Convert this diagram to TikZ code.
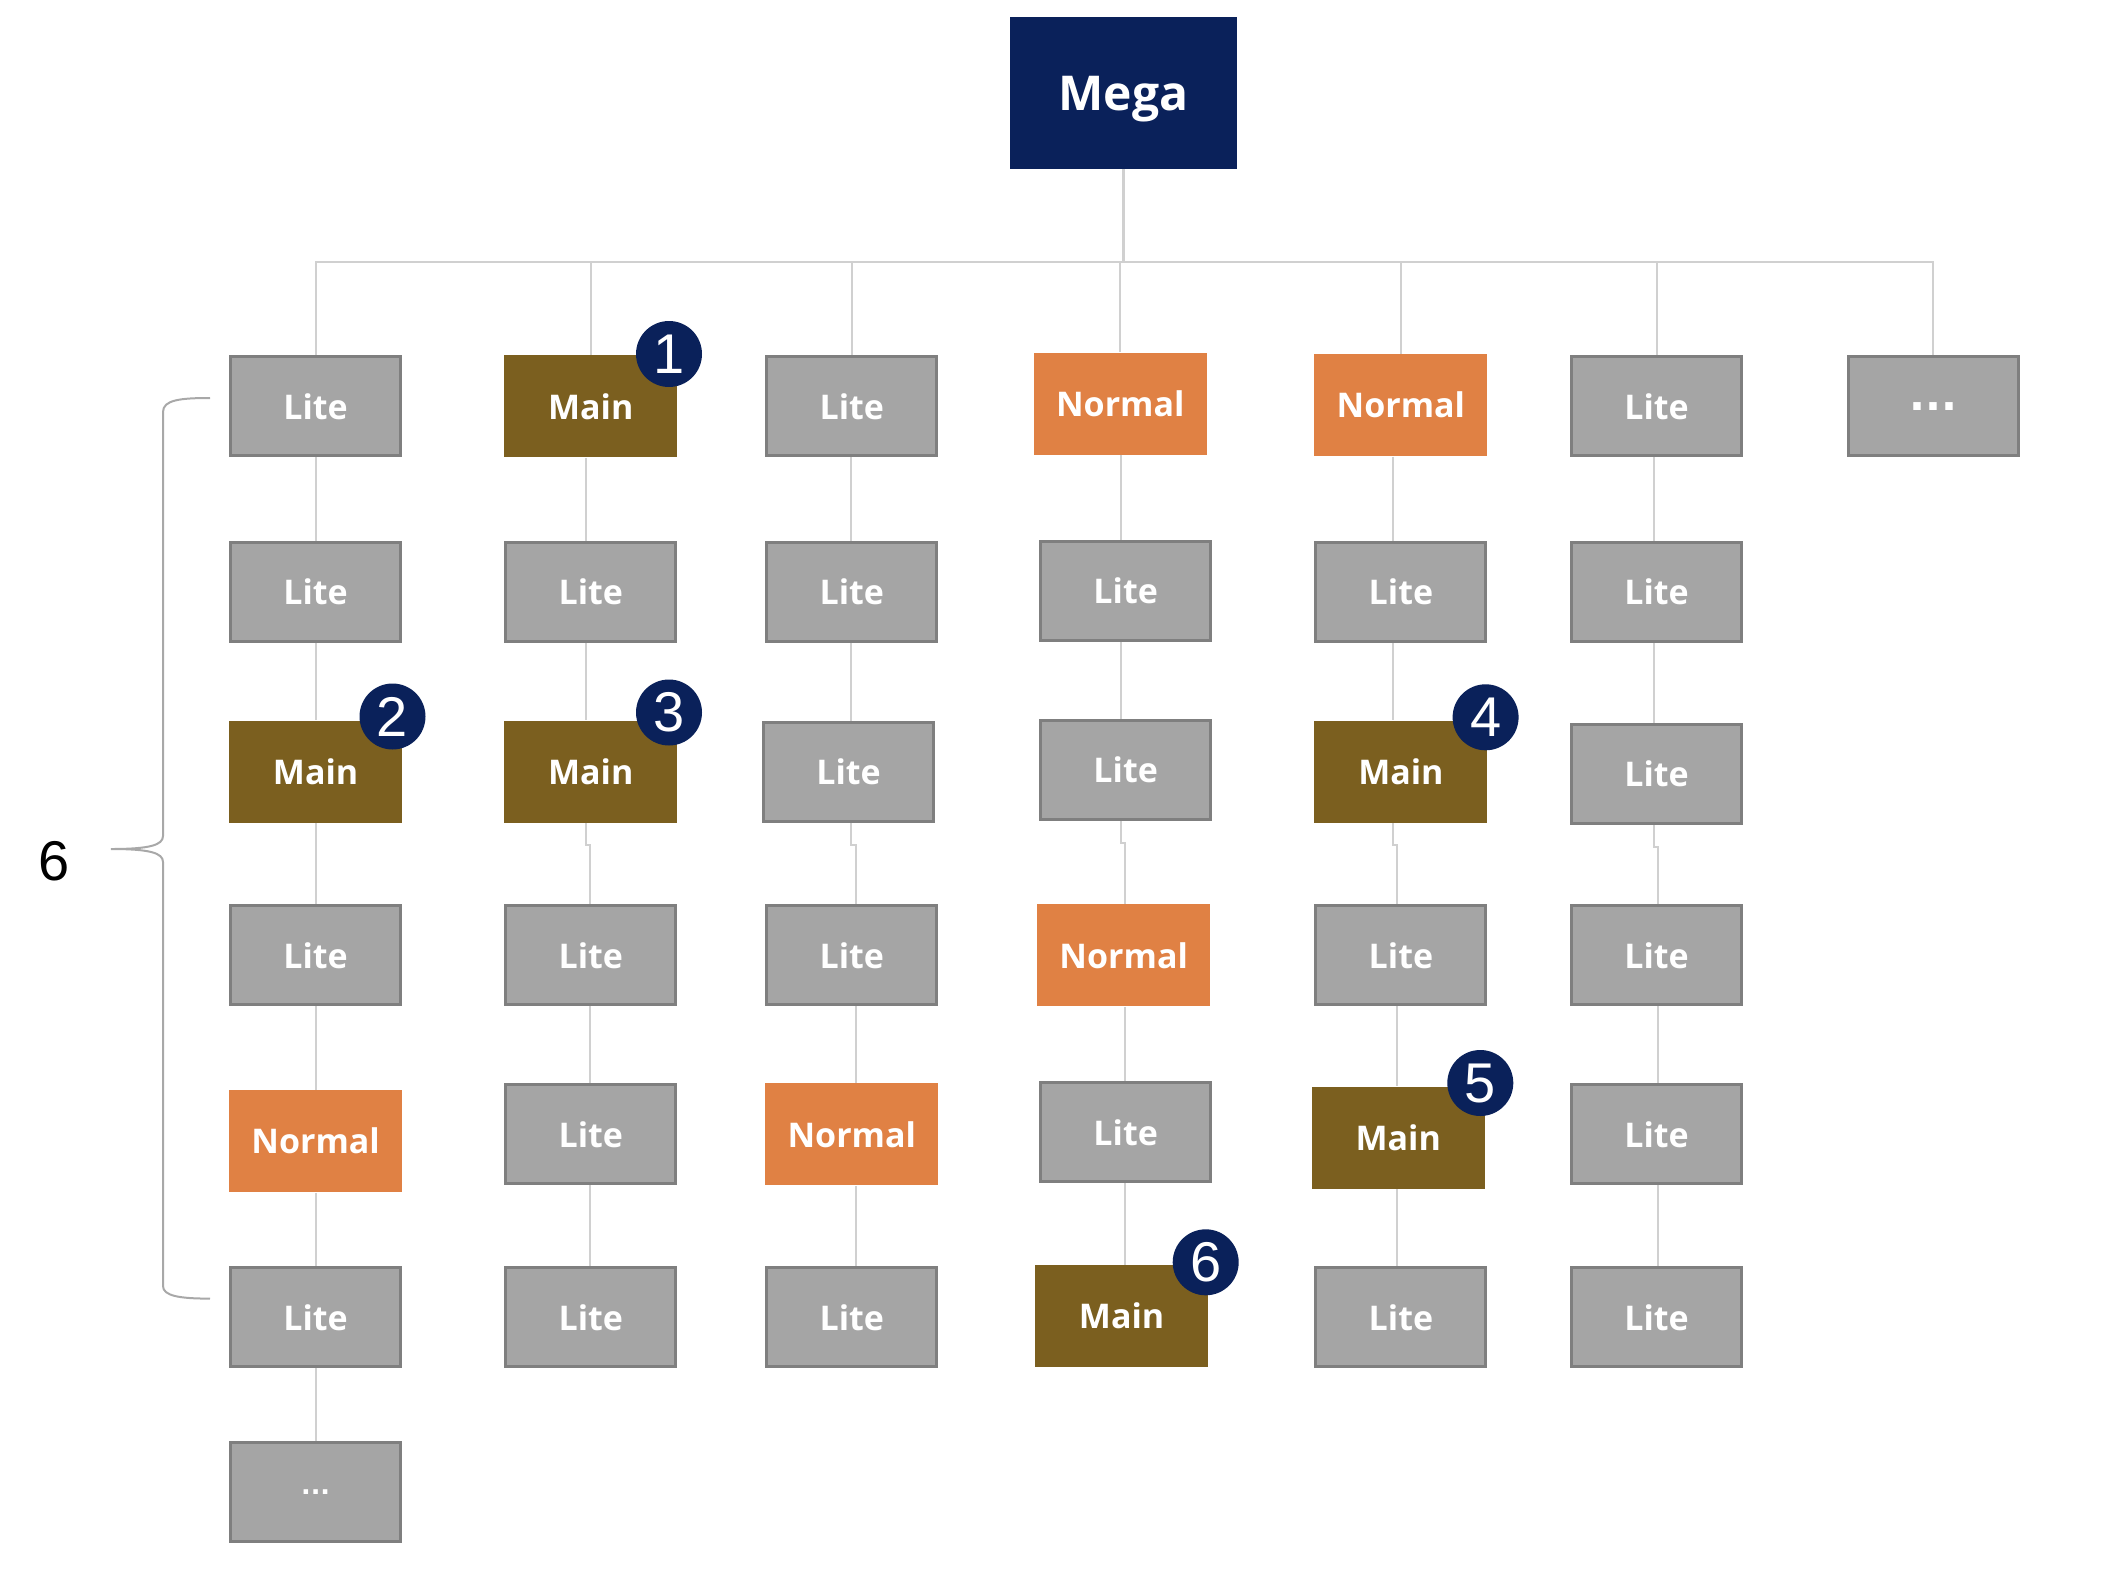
\documentclass[tikz,border=0pt]{standalone}
\usepackage{fontspec}
\setmainfont{Open Sans}
\newfontfamily\numfont{Liberation Sans}
\newfontfamily\dotfont{DejaVu Sans}
\usetikzlibrary{backgrounds}

\definecolor{navy}{HTML}{0A215A}
\definecolor{litefill}{HTML}{A5A5A5}
\definecolor{liteedge}{HTML}{7F7F7F}
\definecolor{mainfill}{HTML}{7B5F1F}
\definecolor{normfill}{HTML}{E08144}
\definecolor{wirecol}{HTML}{D0D0D0}
\definecolor{bracecol}{HTML}{A8A8A8}

\tikzset{
  box/.style={minimum width=86.5pt, minimum height=51pt, inner sep=0pt,
    text=white, font=\bfseries\fontsize{17}{20}\selectfont},
  lite/.style={box, fill=litefill, draw=liteedge, line width=1.5pt,
    minimum width=85pt, minimum height=49.5pt},
  mainbox/.style={box, fill=mainfill},
  normbox/.style={box, fill=normfill},
  megabox/.style={fill=navy, minimum width=113.5pt, minimum height=76pt,
    inner sep=0pt, text depth=0pt, text=white,
    font=\bfseries\fontsize{24}{28}\selectfont},
  badge/.style={circle, fill=navy, minimum size=33pt, inner sep=0pt,
    text=white, font=\numfont\fontsize{28}{30}\selectfont},
  wire/.style={draw=wirecol, line width=1pt},
}

\begin{document}
\begin{tikzpicture}[x=0.5pt, y=0.5pt]
\useasboundingbox (0,0) rectangle (2110,-1580);

% root
\node[megabox] (mega) at (1123.5,-93) {Mega};

% column 1
\node[lite]    (c1r1) at (315.6,-406.4)  {Lite};
\node[lite]    (c1r2) at (315.6,-592.1)  {Lite};
\node[mainbox] (c1r3) at (315.6,-771.8)  {Main};
\node[lite]    (c1r4) at (315.6,-955.4)  {Lite};
\node[normbox] (c1r5) at (315.6,-1141.2) {Normal};
\node[lite]    (c1r6) at (315.6,-1317.4) {Lite};
\node[lite, font=\dotfont\bfseries\fontsize{12.7}{14}\selectfont]
               (c1r7) at (315.6,-1492.4) {...};

% column 2
\node[mainbox] (c2r1) at (590.8,-406.4)  {Main};
\node[lite]    (c2r2) at (590.8,-592.1)  {Lite};
\node[mainbox] (c2r3) at (590.8,-771.8)  {Main};
\node[lite]    (c2r4) at (590.8,-955.4)  {Lite};
\node[lite]    (c2r5) at (590.8,-1134.4) {Lite};
\node[lite]    (c2r6) at (590.8,-1317.4) {Lite};

% column 3
\node[lite]    (c3r1) at (851.8,-406.4)  {Lite};
\node[lite]    (c3r2) at (851.8,-592.1)  {Lite};
\node[lite]    (c3r3) at (848.5,-771.8)  {Lite};
\node[lite]    (c3r4) at (851.8,-955.4)  {Lite};
\node[normbox] (c3r5) at (851.8,-1134.4) {Normal};
\node[lite]    (c3r6) at (851.8,-1317.4) {Lite};

% column 4
\node[normbox] (c4r1) at (1120.3,-403.7)  {Normal};
\node[lite]    (c4r2) at (1125.7,-590.8)  {Lite};
\node[lite]    (c4r3) at (1125.7,-769.7)  {Lite};
\node[normbox] (c4r4) at (1123.7,-955.4)  {Normal};
\node[lite]    (c4r5) at (1125.7,-1132.4) {Lite};
\node[mainbox] (c4r6) at (1121.6,-1316.1) {Main};

% column 5
\node[normbox] (c5r1) at (1400.9,-405.1)  {Normal};
\node[lite]    (c5r2) at (1400.9,-592.1)  {Lite};
\node[mainbox] (c5r3) at (1400.9,-771.8)  {Main};
\node[lite]    (c5r4) at (1400.9,-955.4)  {Lite};
\node[mainbox] (c5r5) at (1398.2,-1137.8) {Main};
\node[lite]    (c5r6) at (1400.9,-1317.4) {Lite};

% column 6
\node[lite] (c6r1) at (1656.6,-406.4)  {Lite};
\node[lite] (c6r2) at (1656.6,-592.1)  {Lite};
\node[lite] (c6r3) at (1656.6,-773.8)  {Lite};
\node[lite] (c6r4) at (1656.6,-955.4)  {Lite};
\node[lite] (c6r5) at (1656.6,-1134.4) {Lite};
\node[lite] (c6r6) at (1656.6,-1317.4) {Lite};

% column 7
\node[lite, font=\dotfont\bfseries\fontsize{21}{24}\selectfont]
            (c7r1) at (1933.1,-406.4) {...};

% numbered badges
\node[badge] (b1) at (669,-354)      {1};
\node[badge] (b2) at (392.5,-716.5)  {2};
\node[badge] (b3) at (669,-712.5)    {3};
\node[badge] (b4) at (1485.6,-717.3) {4};
\node[badge] (b5) at (1480.3,-1083)  {5};
\node[badge] (b6) at (1205.7,-1262.3){6};

% wire tracks: upper (levels 1-3) and lower (levels 4-6) per column
\coordinate (u1) at (316,0);    \coordinate (l1) at (316,0);
\coordinate (u2) at (585.5,0);  \coordinate (l2) at (589.5,0);
\coordinate (u3) at (850.5,0);  \coordinate (l3) at (856,0);
\coordinate (u4) at (1121,0);   \coordinate (l4) at (1125,0);
\coordinate (u5) at (1393,0);   \coordinate (l5) at (1397,0);
\coordinate (u6) at (1654,0);   \coordinate (l6) at (1658,0);

% connectors
\begin{pgfonlayer}{background}
  \draw[wire, line width=1.5pt] (mega.south) -- ++(0,-93) coordinate (hub);
  \foreach \t in {c1r1,c2r1,c3r1,c4r1,c5r1,c6r1,c7r1}
    \draw[wire] (hub) -| (\t.north);
  \foreach \k in {1,...,6}{
    \draw[wire] (c\k r1.south -| u\k) -- (c\k r2.north -| u\k);
    \draw[wire] (c\k r2.south -| u\k) -- (c\k r3.north -| u\k);
    \draw[wire] (c\k r3.south -| u\k) -- ++(0,-22) -| (c\k r4.north -| l\k);
    \draw[wire] (c\k r4.south -| l\k) -- (c\k r5.north -| l\k);
    \draw[wire] (c\k r5.south -| l\k) -- (c\k r6.north -| l\k);
  }
  \draw[wire] (c1r6.south -| l1) -- (c1r7.north -| l1);
\end{pgfonlayer}

% brace spanning six levels
\draw[draw=bracecol, line width=1pt]
  (210,-398) .. controls (180,-398) and (163,-400) .. (163,-412)
  -- (163,-836) .. controls (163,-845) and (150,-849) .. (111,-849)
  .. controls (150,-849) and (163,-853) .. (163,-862)
  -- (163,-1286) .. controls (163,-1296) and (180,-1298.6) .. (210,-1298.6);
\node[font=\numfont\fontsize{28}{30}\selectfont] (levels) at (54,-861) {6};

\end{tikzpicture}
\end{document}
